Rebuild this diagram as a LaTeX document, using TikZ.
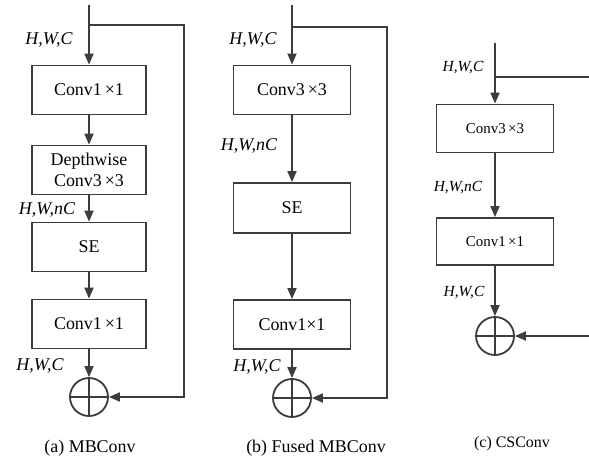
\documentclass[tikz,border=0pt]{standalone}
\usepackage{fontspec}
\setmainfont{Liberation Serif}
\usepackage{xcolor}
\definecolor{linegray}{RGB}{60,60,60}
\usetikzlibrary{positioning,arrows.meta,calc}

\tikzset{
  blk/.style={draw=linegray,line width=1.8pt,minimum width=114bp,minimum height=49bp,inner sep=1pt,align=center,font=\fontsize{18}{21}\selectfont},
  blksm/.style={blk,minimum width=117bp,minimum height=48bp,font=\fontsize{15}{18}\selectfont},
  sumnode/.style={circle,draw=linegray,line width=1.8pt,minimum size=38bp,inner sep=0pt,
    path picture={\draw[linegray,line width=1.8pt]
      (path picture bounding box.north) -- (path picture bounding box.south)
      (path picture bounding box.west) -- (path picture bounding box.east);}},
  arr/.style={draw=linegray,line width=1.8pt,-{Triangle[length=11bp,width=9bp]}},
  ln/.style={draw=linegray,line width=1.8pt},
  lbl/.style={font=\fontsize{18}{21}\selectfont\itshape,inner sep=0pt},
  lblsm/.style={font=\fontsize{15.5}{18}\selectfont\itshape,inner sep=0pt},
  capt/.style={font=\fontsize{18}{21}\selectfont,inner sep=0pt}
}

\begin{document}
\begin{tikzpicture}[x=1bp,y=1bp]
  \useasboundingbox (0,0) rectangle (589,-456);
  % (a) MBConv
  \coordinate (inA) at (89,-5);
  \coordinate (brA) at (89,-25);
  \coordinate (rA) at (184,-25);
  \node[blk] (c1a) at (89,-90) {Conv1\,×1};
  \node[blk] (dwa) at (89,-170) {Depthwise\\Conv3\,×3};
  \node[blk] (sea) at (89,-247) {SE};
  \node[blk] (c2a) at (89,-324) {Conv1\,×1};
  \node[sumnode] (sumA) at (89,-397) {};
  \draw[arr] (inA) -- (c1a);
  \draw[arr] (c1a) -- (dwa);
  \draw[arr] (dwa) -- (sea);
  \draw[arr] (sea) -- (c2a);
  \draw[arr] (c2a) -- (sumA);
  \draw[arr] (brA) -- (rA) |- (sumA);
  \node[lbl] (la1) at (49,-40) {H,W,C};
  \node[lbl] (la2) at (47,-210) {H,W,nC};
  \node[lbl] (la3) at (40,-366) {H,W,C};
  \node[capt] (capA) at (90,-448) {(a) MBConv};
  % (b) Fused MBConv
  \coordinate (inB) at (292,-5);
  \coordinate (brB) at (292,-27);
  \coordinate (rB) at (387,-27);
  \node[blk,minimum width=117bp] (c3b) at (292,-90) {Conv3\,×3};
  \node[blk,minimum width=117bp,minimum height=50bp] (seb) at (292,-208) {SE};
  \node[blk,minimum width=117bp] (c1b) at (292,-324.5) {Conv1×1};
  \node[sumnode] (sumB) at (292,-398) {};
  \draw[arr] (inB) -- (c3b);
  \draw[arr] (c3b) -- (seb);
  \draw[arr] (seb) -- (c1b);
  \draw[arr] (c1b) -- (sumB);
  \draw[arr] (brB) -- (rB) |- (sumB);
  \node[lbl] (lb1) at (253,-40) {H,W,C};
  \node[lbl] (lb2) at (249,-146) {H,W,nC};
  \node[lbl] (lb3) at (257,-367) {H,W,C};
  \node[capt] (capB) at (316,-448) {(b) Fused MBConv};
  % (c) CSConv
  \coordinate (inC) at (495,-43);
  \coordinate (brC) at (495,-77);
  \coordinate (rC) at (589,-77);
  \coordinate (eC) at (589,-336);
  \node[blksm] (c3c) at (495,-128.5) {Conv3\,×3};
  \node[blksm,minimum height=47bp] (c1c) at (495,-241.5) {Conv1\,×1};
  \node[sumnode] (sumC) at (495,-336) {};
  \draw[arr] (inC) -- (c3c);
  \draw[arr] (c3c) -- (c1c);
  \draw[arr] (c1c) -- (sumC);
  \draw[ln] (brC) -- (rC);
  \draw[arr] (eC) -- (sumC);
  \node[lblsm] (lc1) at (463,-68) {H,W,C};
  \node[lblsm] (lc2) at (458,-188) {H,W,nC};
  \node[lblsm] (lc3) at (464,-293) {H,W,C};
  \node[capt,font=\fontsize{16}{19}\selectfont] (capC) at (512,-444) {(c) CSConv};
\end{tikzpicture}
\end{document}
